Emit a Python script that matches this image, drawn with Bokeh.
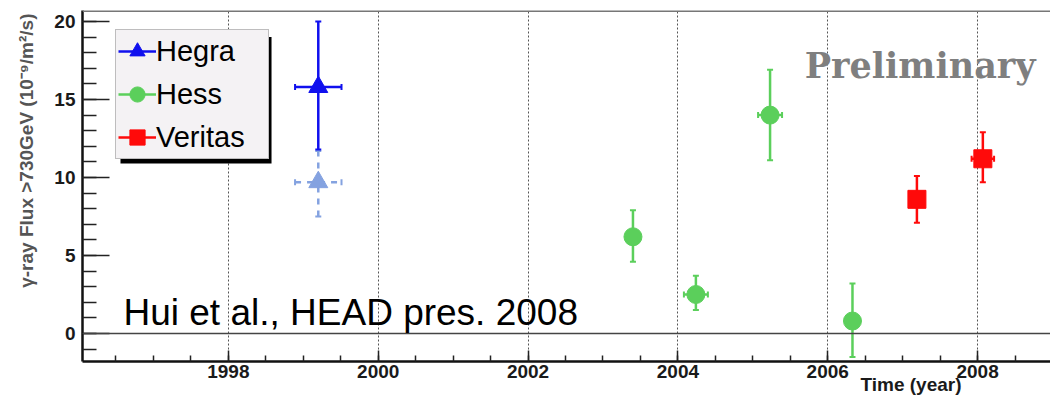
import math
from bokeh.plotting import figure
from bokeh.models import (Range1d, SingleIntervalTicker, Span, Label, Legend, LegendItem,
                          BoxAnnotation, ColumnDataSource, Title)
from bokeh.embed import file_html
from bokeh.resources import INLINE

# ---------------- data ----------------
hegra_x = [1999.2]
hegra_y = [15.8]
hegra_lo = [11.8]
hegra_hi = [20.0]
hegra_xerr = [0.31]

hegra_alt_x = [1999.2]
hegra_alt_y = [9.7]
hegra_alt_lo = [7.5]
hegra_alt_hi = [11.7]
hegra_alt_xerr = [0.31]

hess_x = [2003.4, 2004.24, 2005.23, 2006.33]
hess_y = [6.2, 2.5, 14.0, 0.8]
hess_lo = [4.6, 1.5, 11.1, -1.5]
hess_hi = [7.9, 3.7, 16.9, 3.2]
hess_xerr = [0.0, 0.16, 0.16, 0.0]

veritas_x = [2007.19, 2008.07]
veritas_y = [8.6, 11.2]
veritas_lo = [7.1, 9.7]
veritas_hi = [10.1, 12.9]
veritas_xerr = [0.0, 0.15]

x_ticks_interval = 2
y_ticks_interval = 5
y_title = "\u03b3-ray Flux >730GeV (10\u207b\u2079/m\u00b2/s)"
x_title = "Time (year)"

# ---------------- figure ----------------
p = figure(width=1050, height=398, output_backend="svg", toolbar_location=None,
           x_range=Range1d(1996.053, 2008.973), y_range=Range1d(-1.795, 20.705),
           min_border_left=82, min_border_right=0, min_border_top=10, min_border_bottom=37,
           title=None)
p.outline_line_color = None
p.background_fill_color = "white"
p.border_fill_color = "white"

p.xaxis.ticker = SingleIntervalTicker(interval=x_ticks_interval, num_minor_ticks=4)
p.yaxis.ticker = SingleIntervalTicker(interval=y_ticks_interval, num_minor_ticks=5)
p.xgrid.ticker = SingleIntervalTicker(interval=x_ticks_interval)
p.xgrid.grid_line_color = "#555555"
p.xgrid.grid_line_dash = "2 2"
p.xgrid.grid_line_width = 1
p.ygrid.grid_line_color = None

for ax in (p.xaxis[0], p.yaxis[0]):
    ax.axis_line_color = "#111111"
    ax.axis_line_width = 2.5
    ax.major_tick_line_color = "#222222"
    ax.minor_tick_line_color = "#222222"
    ax.major_tick_line_width = 1.5
    ax.minor_tick_line_width = 1.5
    ax.major_tick_out = 0
    ax.minor_tick_out = 0
    ax.major_label_text_font = "Liberation Sans"
    ax.major_label_text_font_style = "bold"
    ax.major_label_text_font_size = "19px"
    ax.major_label_text_color = "#1a1a1a"

p.xaxis.major_tick_in = 11
p.xaxis.minor_tick_in = 6
p.xaxis.major_label_standoff = 3
p.yaxis.major_tick_in = 27
p.yaxis.minor_tick_in = 14
p.yaxis.major_label_standoff = 7

# axis titles, aligned to the axis ends as in the original
yt = Title(text=y_title, align="right", offset=3, vertical_align="top",
           text_font="Liberation Sans", text_font_style="bold", text_font_size="19px",
           text_color="#555555", standoff=26)
p.add_layout(yt, "left")

xt = Title(text=x_title, align="right", offset=89, vertical_align="top",
           text_font="Liberation Sans", text_font_style="bold", text_font_size="19px",
           text_color="#1a1a1a")
try:
    xt.standoff = -14
except Exception:
    xt.standoff = 0
p.add_layout(xt, "below")

p.add_layout(Span(location=20.68, dimension="width", line_color="#777777", line_width=2))
p.add_layout(Span(location=0, dimension="width", line_color="#444444", line_width=1.5))


def series(xs, ys, lo, hi, xerr, color, marker, size, dash="solid"):
    src = ColumnDataSource(dict(x=xs, y=ys, lo=lo, hi=hi))
    seg = p.segment(x0="x", y0="lo", x1="x", y1="hi", source=src, line_color=color,
                    line_width=2.5, line_dash=dash)
    p.scatter(x="x", y="lo", source=src, marker="dash", size=6, line_color=color, line_width=2)
    p.scatter(x="x", y="hi", source=src, marker="dash", size=6, line_color=color, line_width=2)
    xs_e = [x for x, e in zip(xs, xerr) if e > 0]
    ys_e = [y for y, e in zip(ys, xerr) if e > 0]
    es = [e for e in xerr if e > 0]
    if xs_e:
        xsrc = ColumnDataSource(dict(y=ys_e, x0=[a - e for a, e in zip(xs_e, es)],
                                     x1=[a + e for a, e in zip(xs_e, es)]))
        p.segment(x0="x0", y0="y", x1="x1", y1="y", source=xsrc, line_color=color,
                  line_width=2.5, line_dash=dash)
        for k in ("x0", "x1"):
            p.scatter(x=k, y="y", source=xsrc, marker="dash", angle=math.pi / 2, size=6,
                      line_color=color, line_width=2)
    sc = p.scatter(x="x", y="y", source=src, marker=marker, size=size, fill_color=color,
                   line_color=color)
    return seg, sc


series(hegra_alt_x, hegra_alt_y, hegra_alt_lo, hegra_alt_hi, hegra_alt_xerr,
       "#84a2e0", "triangle", 19, dash="6 6")
hg = series(hegra_x, hegra_y, hegra_lo, hegra_hi, hegra_xerr, "#1010ee", "triangle", 19)
hs = series(hess_x, hess_y, hess_lo, hess_hi, hess_xerr, "#5bcf5b", "circle", 18)
vr = series(veritas_x, veritas_y, veritas_lo, veritas_hi, veritas_xerr, "#ff0a0a", "square", 18)

# legend shadow
p.add_layout(BoxAnnotation(left=1996.56, right=1998.576, top=19.0, bottom=10.9,
                           fill_color="black", fill_alpha=1.0, line_color=None,
                           level="annotation"))

legend = Legend(items=[LegendItem(label="Hegra", renderers=list(hg)),
                       LegendItem(label="Hess", renderers=list(hs)),
                       LegendItem(label="Veritas", renderers=list(vr))],
                location=(33, 202), glyph_width=38, glyph_height=38, label_height=38,
                label_width=110, spacing=5, padding=2, margin=0, label_standoff=0,
                label_text_font="Liberation Sans", label_text_font_size="29px",
                label_text_color="black", background_fill_color="#f4f2f4",
                background_fill_alpha=1.0, border_line_color="#888888",
                border_line_width=1.5)
p.add_layout(legend, "center")

p.add_layout(Label(x=2005.693, y=17.18, text="Preliminary", text_font="DejaVu Serif",
                   text_font_style="bold", text_font_size="35px", text_color="#7f7f7f",
                   text_baseline="alphabetic", text_align="left"))
p.add_layout(Label(x=1996.6, y=1.35, text="Hui et al., HEAD pres. 2008",
                   text_font="Liberation Sans", text_font_size="37px", text_color="black",
                   text_baseline="alphabetic", text_align="left"))

open("out.html", "w").write(file_html(p, INLINE))
